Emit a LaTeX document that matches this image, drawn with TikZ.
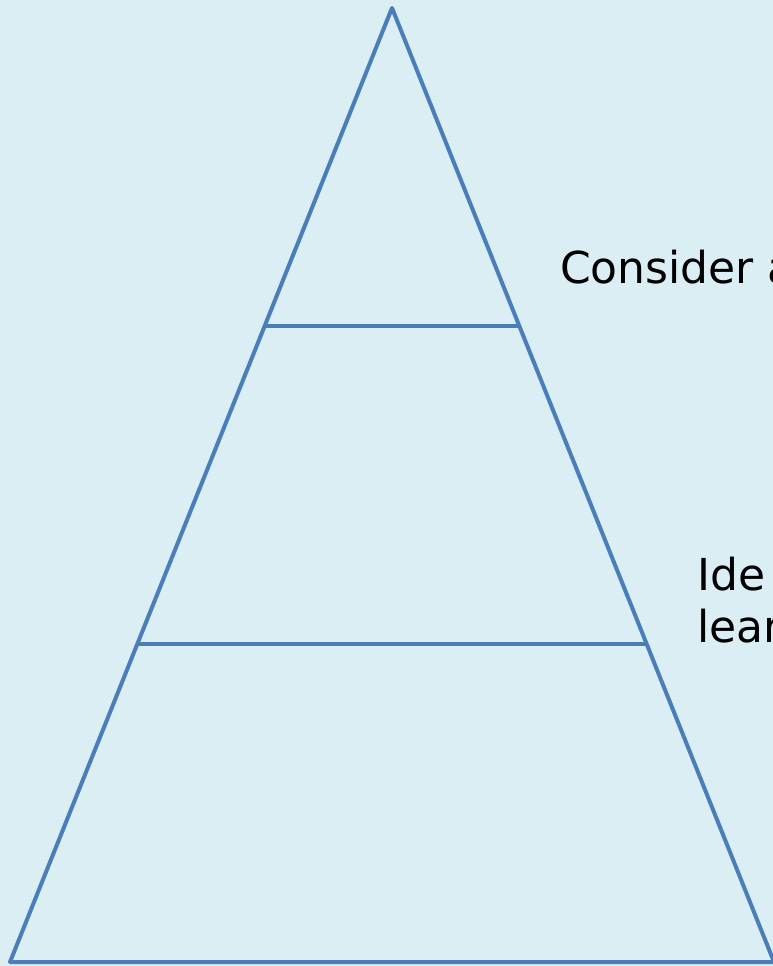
\documentclass[tikz,border=0pt]{standalone}
\usepackage{fontspec}
\setmainfont{DejaVu Sans}
\usepackage{tikz}
\usetikzlibrary{calc}
\definecolor{bgblue}{RGB}{219,238,244}
\definecolor{edgeblue}{RGB}{74,126,187}

\begin{document}
\begin{tikzpicture}[x=1pt, y=-1pt,
  tier/.style={draw=edgeblue, line width=4pt, line join=round},
  lbl/.style={anchor=base west, inner sep=0pt, align=left, font=\fontsize{44}{52}\selectfont}]
\fill[bgblue] (0,0) rectangle (773,966);
\useasboundingbox (0,0) rectangle (773,966);
\clip (0,0) rectangle (773,966);
% pyramid outline
\coordinate (apex) at (392,8);
\coordinate (bl) at (10,962);
\coordinate (br) at (774,962);
\draw[tier] (apex) -- (bl) -- (br) -- cycle;
% tier dividers
\draw[tier] ($(apex)!1/3!(bl)$) -- ($(apex)!1/3!(br)$);
\draw[tier] ($(apex)!2/3!(bl)$) -- ($(apex)!2/3!(br)$);
% labels (base = last line)
\node[lbl] (consider) at (560,283) {Consider a};
\node[lbl] (identify) at (697,642) {Ide\\lear};
\end{tikzpicture}
\end{document}
